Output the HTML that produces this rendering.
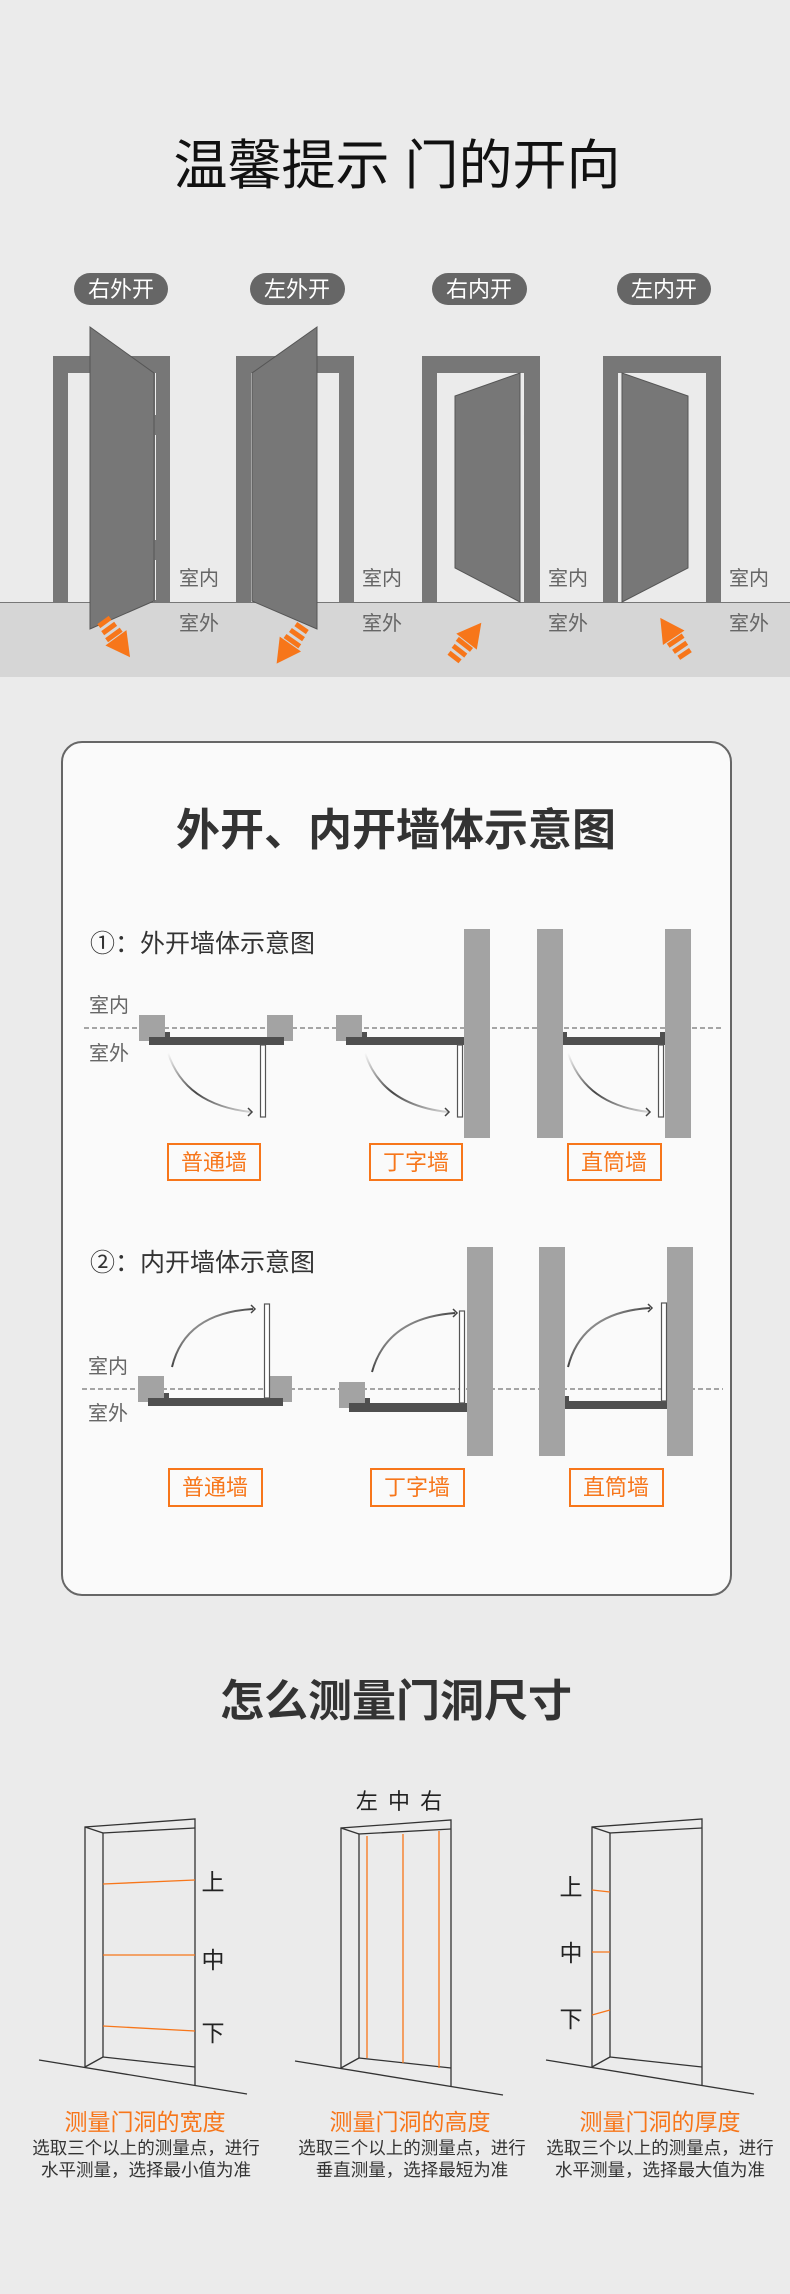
<!DOCTYPE html>
<html><head><meta charset="utf-8">
<style>
html,body{margin:0;padding:0;background:#ebebeb;}
svg{display:block;}
text{font-family:"Liberation Sans","Noto Sans CJK SC",sans-serif;}
</style></head>
<body>
<svg width="790" height="2294" viewBox="0 0 790 2294" xmlns="http://www.w3.org/2000/svg">
<defs>
<g id="oarr">
  <rect x="0" y="-7" width="5" height="14" fill="#f7761a"/>
  <rect x="8" y="-8" width="5" height="16" fill="#f7761a"/>
  <rect x="16" y="-9" width="5" height="18" fill="#f7761a"/>
  <polygon points="22,-13 46,0 22,13" fill="#f7761a"/>
</g>
<linearGradient id="arcg1" x1="0" y1="0" x2="1" y2="1">
  <stop offset="0" stop-color="#444" stop-opacity="0"/>
  <stop offset="0.5" stop-color="#444"/>
  <stop offset="1" stop-color="#444" stop-opacity="0.2"/>
</linearGradient>
</defs>
<rect width="790" height="2294" fill="#ebebeb"/>

<!-- Title -->
<text x="397" y="184" font-size="54" text-anchor="middle" fill="#111">温馨提示 门的开向</text>

<!-- Pills -->
<g font-size="22" fill="#fff" text-anchor="middle">
  <rect x="74" y="273" width="94" height="32" rx="16" fill="#666"/><text x="121" y="297">右外开</text>
  <rect x="250" y="273" width="95" height="32" rx="16" fill="#666"/><text x="297" y="297">左外开</text>
  <rect x="432" y="273" width="95" height="32" rx="16" fill="#666"/><text x="479" y="297">右内开</text>
  <rect x="617" y="273" width="94" height="32" rx="16" fill="#666"/><text x="664" y="297">左内开</text>
</g>

<!-- Floor -->
<rect x="0" y="603" width="790" height="74" fill="#d6d6d6"/>
<line x1="0" y1="602.5" x2="790" y2="602.5" stroke="#777" stroke-width="1"/>

<!-- Frames -->
<g fill="#777">
  <path d="M53 356 H170 V603 H154 V373 H68 V603 H53 Z"/>
  <path d="M236 356 H354 V603 H339 V373 H251 V603 H236 Z"/>
  <path d="M422 356 H540 V603 H524 V373 H437 V603 H422 Z"/>
  <path d="M603 356 H721 V603 H706 V373 H618 V603 H603 Z"/>
</g>
<g stroke="#eee" stroke-width="1">
  <line x1="155.5" y1="373" x2="155.5" y2="415"/><line x1="155.5" y1="435" x2="155.5" y2="540"/><line x1="155.5" y1="560" x2="155.5" y2="600"/>
  <line x1="251.5" y1="373" x2="251.5" y2="415"/><line x1="251.5" y1="435" x2="251.5" y2="540"/><line x1="251.5" y1="560" x2="251.5" y2="600"/>
  <line x1="523.5" y1="373" x2="523.5" y2="415"/><line x1="523.5" y1="435" x2="523.5" y2="540"/><line x1="523.5" y1="560" x2="523.5" y2="600"/>
  <line x1="619.5" y1="373" x2="619.5" y2="415"/><line x1="619.5" y1="435" x2="619.5" y2="540"/><line x1="619.5" y1="560" x2="619.5" y2="600"/>
</g>
<!-- Doors -->
<g fill="#777" stroke="#555" stroke-width="1">
  <polygon points="90,327 154,373 154,601 90,629"/>
  <polygon points="317,327 252,373 252,601 317,629"/>
  <polygon points="520,373 455,396 455,568 520,602"/>
  <polygon points="622,373 688,396 688,568 622,602"/>
</g>
<!-- labels -->
<g font-size="20" fill="#666">
  <text x="179" y="585">室内</text><text x="179" y="630">室外</text>
  <text x="362" y="585">室内</text><text x="362" y="630">室外</text>
  <text x="548" y="585">室内</text><text x="548" y="630">室外</text>
  <text x="729" y="585">室内</text><text x="729" y="630">室外</text>
</g>
<!-- Orange arrows -->
<use href="#oarr" transform="translate(103,620) rotate(54)"/>
<use href="#oarr" transform="translate(303,626) rotate(125)"/>
<use href="#oarr" transform="translate(453,659) rotate(-52)"/>
<use href="#oarr" transform="translate(686,656) rotate(-124)"/>

<!-- Card -->
<rect x="62" y="742" width="669" height="853" rx="20" fill="#fafafa" stroke="#666" stroke-width="2"/>
<text x="396" y="845" font-size="44" font-weight="bold" text-anchor="middle" fill="#333">外开、内开墙体示意图</text>

<!-- Section 1 -->
<text x="90" y="952" font-size="25" fill="#333">①：外开墙体示意图</text>
<g font-size="20" fill="#666"><text x="89" y="1012">室内</text><text x="89" y="1060">室外</text></g>
<line x1="84" y1="1028" x2="723" y2="1028" stroke="#a5a5a5" stroke-width="2" stroke-dasharray="5,3"/>
<g fill="#a3a3a3">
  <rect x="139" y="1015" width="26" height="26"/><rect x="267" y="1015" width="26" height="26"/>
  <rect x="336" y="1015" width="26" height="26"/>
  <rect x="464" y="929" width="26" height="209"/>
  <rect x="537" y="929" width="26" height="209"/><rect x="665" y="929" width="26" height="209"/>
</g>
<g fill="#4f4f4f">
  <rect x="149" y="1037" width="135" height="8"/><rect x="165" y="1032" width="5" height="6"/>
  <rect x="346" y="1037" width="118" height="8"/><rect x="362" y="1032" width="5" height="6"/>
  <rect x="563" y="1037" width="102" height="8"/><rect x="563" y="1032" width="4" height="6"/><rect x="660" y="1032" width="5" height="6"/>
</g>
<g fill="#fff" stroke="#555" stroke-width="1.2">
  <rect x="260.5" y="1045" width="5" height="72"/>
  <rect x="457.5" y="1045" width="5" height="72"/>
  <rect x="658.5" y="1045" width="5" height="72"/>
</g>
<g fill="none" stroke="url(#arcg1)" stroke-width="2">
  <path d="M168 1053 Q185 1105 251 1112"/>
  <path d="M365 1053 Q382 1105 448 1112"/>
  <path d="M568 1053 Q585 1105 649 1112"/>
</g>
<g fill="none" stroke="#444" stroke-width="1.5">
  <path d="M248 1108 l4 4 l-4 4"/><path d="M445 1108 l4 4 l-4 4"/><path d="M646 1108 l4 4 l-4 4"/>
</g>
<g fill="none" stroke="#f7761a" stroke-width="2">
  <rect x="168" y="1144" width="92" height="36"/>
  <rect x="370" y="1144" width="92" height="36"/>
  <rect x="568" y="1144" width="93" height="36"/>
</g>
<g font-size="22" fill="#f7761a" text-anchor="middle">
  <text x="214" y="1170">普通墙</text><text x="416" y="1170">丁字墙</text><text x="614" y="1170">直筒墙</text>
</g>

<!-- Section 2 -->
<text x="90" y="1271" font-size="25" fill="#333">②：内开墙体示意图</text>
<g font-size="20" fill="#666"><text x="88" y="1373">室内</text><text x="88" y="1420">室外</text></g>
<line x1="82" y1="1389" x2="723" y2="1389" stroke="#a5a5a5" stroke-width="2" stroke-dasharray="5,3"/>
<g fill="#a3a3a3">
  <rect x="138" y="1376" width="26" height="26"/><rect x="266" y="1376" width="26" height="26"/>
  <rect x="339" y="1382" width="26" height="26"/>
  <rect x="467" y="1247" width="26" height="209"/>
  <rect x="539" y="1247" width="26" height="209"/><rect x="667" y="1247" width="26" height="209"/>
</g>
<g fill="#4f4f4f">
  <rect x="148" y="1398" width="135" height="8"/><rect x="164" y="1393" width="5" height="6"/>
  <rect x="349" y="1403" width="118" height="9"/><rect x="365" y="1398" width="5" height="6"/>
  <rect x="565" y="1401" width="102" height="8"/><rect x="565" y="1396" width="4" height="6"/><rect x="662" y="1396" width="5" height="6"/>
</g>
<g fill="#fff" stroke="#555" stroke-width="1.2">
  <rect x="264.5" y="1304" width="5" height="94"/>
  <rect x="459.5" y="1311" width="5" height="92"/>
  <rect x="661.5" y="1303" width="5" height="98"/>
</g>
<g fill="none" stroke="url(#arcg1)" stroke-width="2">
  <path d="M172 1367 Q185 1313 253 1309"/>
  <path d="M372 1372 Q387 1318 455 1313"/>
  <path d="M568 1367 Q582 1312 650 1308"/>
</g>
<g fill="none" stroke="#444" stroke-width="1.5">
  <path d="M251 1305 l4 4 l-4 4"/><path d="M453 1309 l4 4 l-4 4"/><path d="M648 1304 l4 4 l-4 4"/>
</g>
<g fill="none" stroke="#f7761a" stroke-width="2">
  <rect x="169" y="1469" width="93" height="37"/>
  <rect x="371" y="1469" width="93" height="37"/>
  <rect x="570" y="1469" width="93" height="37"/>
</g>
<g font-size="22" fill="#f7761a" text-anchor="middle">
  <text x="215" y="1495">普通墙</text><text x="417" y="1495">丁字墙</text><text x="616" y="1495">直筒墙</text>
</g>

<!-- Section 3 -->
<text x="396" y="1716" font-size="44" font-weight="bold" text-anchor="middle" fill="#333">怎么测量门洞尺寸</text>
<text x="400" y="1809" font-size="22" text-anchor="middle" fill="#222" letter-spacing="2">左 中 右</text>

<g id="door" fill="none" stroke="#333" stroke-width="1.3">
  <polyline points="85,2067 85,1827 195,1819 195,2085"/>
  <polyline points="103,2057 103,1833 195,1828"/>
  <line x1="85" y1="1827" x2="103" y2="1833"/>
  <line x1="85" y1="2067" x2="103" y2="2057"/>
  <line x1="103" y1="2057" x2="195" y2="2067"/>
  <line x1="39" y1="2060" x2="247" y2="2094"/>
</g>
<use href="#door" transform="translate(256,1)"/>
<use href="#door" transform="translate(507,0)"/>

<g stroke="#f7761a" stroke-width="1.3">
  <line x1="103" y1="1884" x2="195" y2="1880"/>
  <line x1="103" y1="1955" x2="195" y2="1955"/>
  <line x1="103" y1="2026" x2="195" y2="2031"/>
  <line x1="367" y1="1836" x2="367" y2="2058"/>
  <line x1="403" y1="1834" x2="403" y2="2063"/>
  <line x1="439" y1="1831" x2="439" y2="2068"/>
  <line x1="592" y1="1890" x2="610" y2="1892"/>
  <line x1="592" y1="1952" x2="610" y2="1952"/>
  <line x1="592" y1="2015" x2="610" y2="2010"/>
</g>
<g font-size="23" fill="#222" text-anchor="middle">
  <text x="213" y="1890">上</text><text x="213" y="1968">中</text><text x="213" y="2041">下</text>
  <text x="571" y="1895">上</text><text x="571" y="1961">中</text><text x="571" y="2027">下</text>
</g>

<g font-size="23" fill="#f7761a" text-anchor="middle">
  <text x="145" y="2130">测量门洞的宽度</text>
  <text x="410" y="2130">测量门洞的高度</text>
  <text x="660" y="2130">测量门洞的厚度</text>
</g>
<g font-size="17.5" fill="#333" text-anchor="middle">
  <text x="146" y="2154">选取三个以上的测量点，进行</text>
  <text x="146" y="2176">水平测量，选择最小值为准</text>
  <text x="412" y="2154">选取三个以上的测量点，进行</text>
  <text x="412" y="2176">垂直测量，选择最短为准</text>
  <text x="660" y="2154">选取三个以上的测量点，进行</text>
  <text x="660" y="2176">水平测量，选择最大值为准</text>
</g>
</svg>
</body></html>
